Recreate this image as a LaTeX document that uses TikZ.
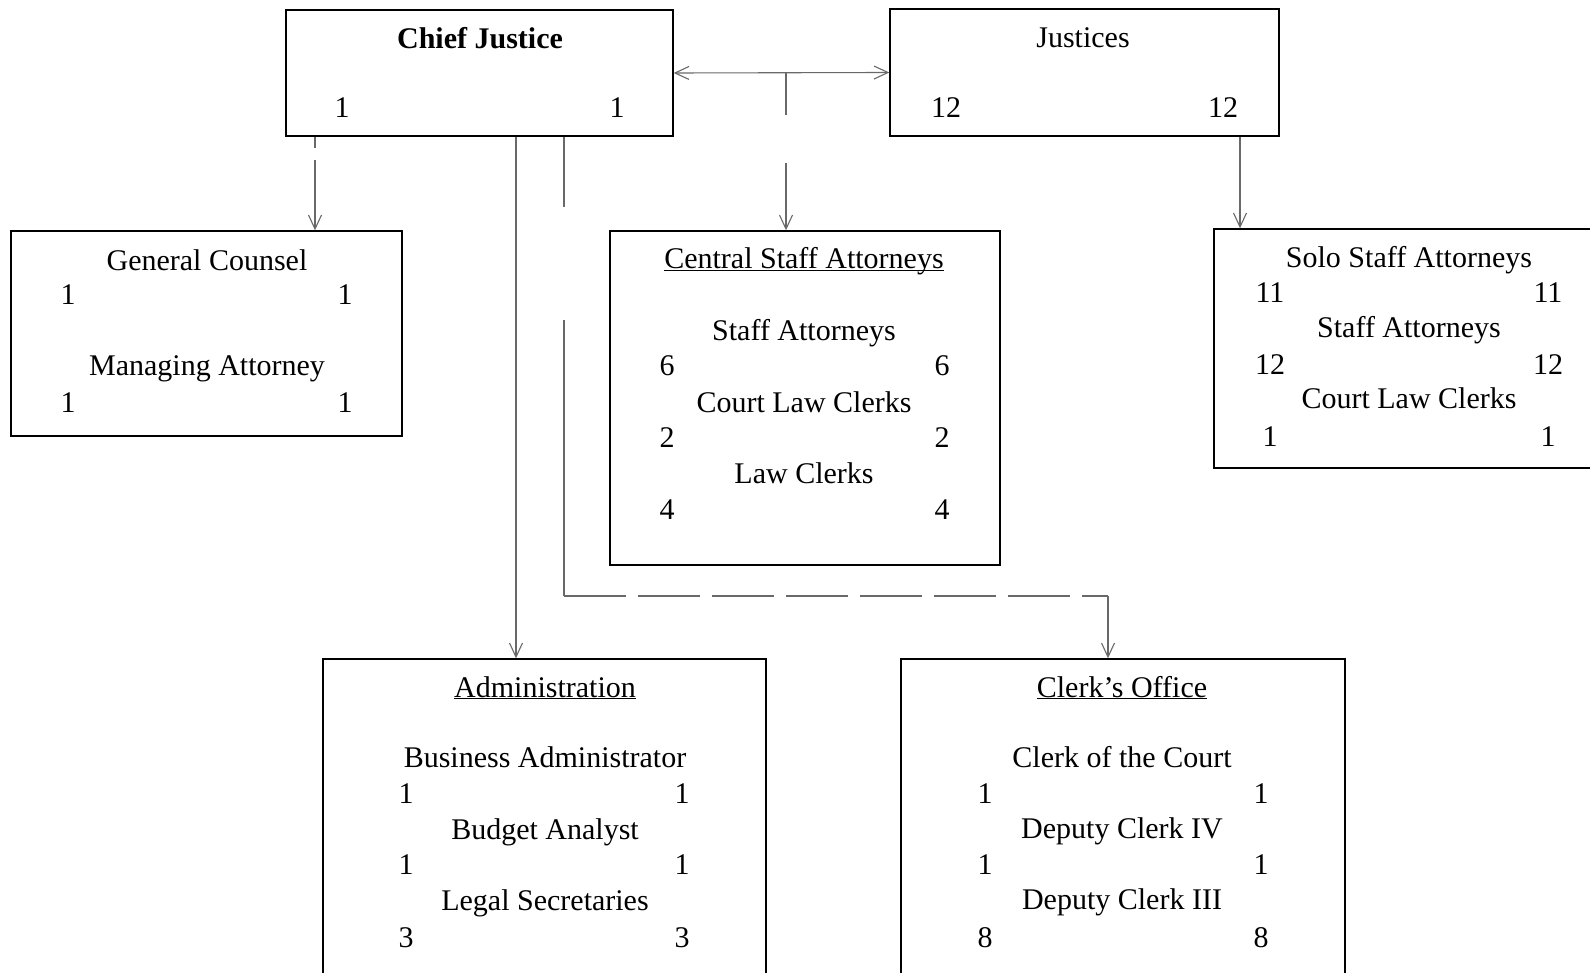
\documentclass[tikz,border=0pt]{standalone}
\usepackage{fontspec}
\setmainfont{Liberation Serif}
\usetikzlibrary{arrows.meta, calc}
\definecolor{linkgray}{RGB}{105, 105, 105}
\tikzset{
  unitbox/.style={draw=black, line width=1.4pt, inner sep=0pt},
  lbl/.style={anchor=base, inner sep=0pt},
  plain/.style={draw=linkgray, line width=1.1pt},
  link/.style={plain, -{Straight Barb[length=14pt, width=13pt]}},
}
\newcommand{\headline}[1]{\underline{\smash{#1}}}

\begin{document}
\begin{tikzpicture}[x=1pt, y=-1pt, font=\fontsize{30}{36}\selectfont]
  \useasboundingbox[fill=white] (0,0) rectangle (1590,973);
  \clip (0,0) rectangle (1590,973);

  % Boxes
  \node[unitbox, minimum width=387pt, minimum height=126pt] (cj) at (479.5,73) {};
  \node[unitbox, minimum width=389pt, minimum height=127pt] (jus) at (1084.5,72.5) {};
  \node[unitbox, minimum width=391pt, minimum height=205pt] (gc) at (206.5,333.5) {};
  \node[unitbox, minimum width=390pt, minimum height=334pt] (csa) at (805,398) {};
  \node[unitbox, minimum width=390pt, minimum height=239pt] (solo) at (1409,348.5) {};
  \node[unitbox, minimum width=443pt, minimum height=360pt] (adm) at (544.5,839) {};
  \node[unitbox, minimum width=444pt, minimum height=360pt] (clk) at (1123,839) {};

  % Chief Justice and Justices
  \node[lbl] (cjname) at (480,49) {\bfseries Chief Justice};
  \node[lbl] (cjl) at (342,118) {1};  \node[lbl] (cjr) at (617,118) {1};
  \node[lbl] (jusname) at (1083,48) {Justices};
  \node[lbl] (jusl) at (946,118) {12};  \node[lbl] (jusr) at (1223,118) {12};

  % General Counsel
  \node[lbl] (gcname) at (207,271) {General Counsel};
  \node[lbl] (gcl1) at (68,305) {1};  \node[lbl] (gcr1) at (345,305) {1};
  \node[lbl] (gcname2) at (207,376) {Managing Attorney};
  \node[lbl] (gcl2) at (68,413) {1};  \node[lbl] (gcr2) at (345,413) {1};

  % Central Staff Attorneys
  \node[lbl] (csaname) at (804,269) {\headline{Central Staff Attorneys}};
  \node[lbl] (csa1) at (804,341) {Staff Attorneys};
  \node[lbl] (csal1) at (667,376) {6};  \node[lbl] (csar1) at (942,376) {6};
  \node[lbl] (csa2) at (804,412) {Court Law Clerks};
  \node[lbl] (csal2) at (667,447) {2};  \node[lbl] (csar2) at (942,447) {2};
  \node[lbl] (csa3) at (804,483) {Law Clerks};
  \node[lbl] (csal3) at (667,519) {4};  \node[lbl] (csar3) at (942,519) {4};

  % Solo Staff Attorneys
  \node[lbl] (soloname) at (1409,268) {Solo Staff Attorneys};
  \node[lbl] (solol1) at (1270,303) {11};  \node[lbl] (solor1) at (1548,303) {11};
  \node[lbl] (solo1) at (1409,338) {Staff Attorneys};
  \node[lbl] (solol2) at (1270,374) {12};  \node[lbl] (solor2) at (1548,374) {12};
  \node[lbl] (solo2) at (1409,409) {Court Law Clerks};
  \node[lbl] (solol3) at (1270,446) {1};  \node[lbl] (solor3) at (1548,446) {1};

  % Administration
  \node[lbl] (admname) at (545,697) {\headline{Administration}};
  \node[lbl] (adm1) at (545,767) {Business Administrator};
  \node[lbl] (adml1) at (406,803) {1};  \node[lbl] (admr1) at (682,803) {1};
  \node[lbl] (adm2) at (545,839) {Budget Analyst};
  \node[lbl] (adml2) at (406,874) {1};  \node[lbl] (admr2) at (682,874) {1};
  \node[lbl] (adm3) at (545,910) {Legal Secretaries};
  \node[lbl] (adml3) at (406,947) {3};  \node[lbl] (admr3) at (682,947) {3};

  % Clerk's Office
  \node[lbl] (clkname) at (1122,697) {\headline{Clerk’s Office}};
  \node[lbl] (clk1) at (1122,767) {Clerk of the Court};
  \node[lbl] (clkl1) at (985,803) {1};  \node[lbl] (clkr1) at (1261,803) {1};
  \node[lbl] (clk2) at (1122,838) {Deputy Clerk IV};
  \node[lbl] (clkl2) at (985,874) {1};  \node[lbl] (clkr2) at (1261,874) {1};
  \node[lbl] (clk3) at (1122,909) {Deputy Clerk III};
  \node[lbl] (clkl3) at (985,947) {8};  \node[lbl] (clkr3) at (1261,947) {8};

  % Connector positions
  \coordinate (xgc) at (315,0);
  \coordinate (xadm) at (516,0);
  \coordinate (xcsa) at (786,0);
  \coordinate (xsolo) at (1240,0);
  \coordinate (mid) at (cj.east -| xcsa);
  \coordinate (csatop) at (786,163);
  \coordinate (gapend) at (564,320);
  \coordinate (bend1) at (564,596);
  \coordinate (bend2) at (1108,596);

  % Connectors
  \draw[link, dash pattern=on 11pt off 12pt on 300pt] (cj.south -| xgc) -- (gc.north -| xgc);
  \draw[plain, {Straight Barb[length=14pt, width=13pt]}-{Straight Barb[length=14pt, width=13pt]}] (cj.east) -- (jus.west);
  \draw[plain] (mid) -- ++(0,42);
  \draw[link] (csatop) -- (csa.north -| csatop);
  \draw[link] (jus.south -| xsolo) -- (solo.north -| xsolo);
  \draw[link] (cj.south -| xadm) -- (adm.north -| xadm);
  \draw[plain] (cj.south -| gapend) -- ++(0,70);
  \draw[plain] (gapend) -- (bend1);
  \draw[plain, dash pattern=on 62pt off 12pt] (bend1) -- (bend2);
  \draw[link] (bend2) -- (clk.north -| bend2);
\end{tikzpicture}
\end{document}
